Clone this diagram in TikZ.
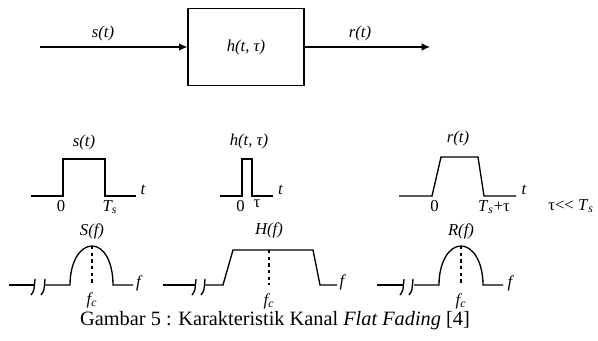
\documentclass[tikz,border=0pt]{standalone}
\usepackage{fontspec}
\setmainfont{Liberation Serif}
\usetikzlibrary{arrows.meta}

\begin{document}
\begin{tikzpicture}[x=0.6pt,y=-0.6pt,line width=0.7pt,
  box/.style={draw,inner sep=0pt,minimum width=69.6pt,minimum height=46.2pt},
  arr/.style={-{Latex[length=5pt,width=4.5pt]}},
  lbl/.style={inner sep=0pt,font=\fontsize{10}{12}\selectfont\itshape},
  num/.style={inner sep=0pt,font=\fontsize{10}{12}\selectfont},
  wave/.style={line width=0.8pt},
  dsh/.style={line width=0.8pt,dash pattern=on 2pt off 2pt}]
\useasboundingbox (0,0) rectangle (598,340);
% kanal
\coordinate (in) at (40,47);
\coordinate (out) at (430,47);
\node[box] (ch) at (246,47) {\fontsize{10}{12}\selectfont\itshape h(t, τ)};
\draw[arr] (in)--(ch); \draw[arr] (ch)--(out);
\node[lbl] (sin) at (103,33) {s(t)};
\node[lbl] (rout) at (360,33) {r(t)};
% domain waktu
\draw[wave] (31,196)--(63,196)--(63,159)--(105,159)--(105,196)--(136,196);
\draw[wave] (220,196)--(242,196)--(242,159)--(252,159)--(252,196)--(273,196);
\draw[wave] (399,196)--(432,196)--(441,157)--(478,157)--(484,196)--(516,196);
\node[lbl] (st) at (84,142) {s(t)};
\node[num] (s0) at (61,206) {0};
\node[lbl] (sTs) at (110,207) {T\textsubscript{s}};
\node[lbl] (st1) at (143,190) {t};
\node[lbl] (ht) at (249,141) {h(t, τ)};
\node[num] (h0) at (240.5,206) {0};
\node[num] (htau) at (257,204) {τ};
\node[lbl] (ht1) at (280.5,190) {t};
\node[lbl] (rt) at (458,138) {r(t)};
\node[num] (r0) at (434.5,206) {0};
\node[num] (rTs) at (494,207) {\textit{T}\textsubscript{\textit{s}}+τ};
\node[lbl] (rt1) at (524,190) {t};
\node[num] (cond) at (571,206) {τ{<}{<} \textit{T}\textsubscript{\textit{s}}};
% domain frekuensi
\draw[wave] (9,285)--(34,285);
\draw[wave] (45,285)--(70,285) .. controls (70,262) and (80,246) .. (92,246)
  .. controls (104,246) and (113,262) .. (113,285)--(133,285);
\draw[wave] (163,285)--(195,285);
\draw[wave] (205,285)--(223,285)--(233,250)--(313,250)--(320,285)--(337,285);
\draw[wave] (377,285)--(403,285);
\draw[wave] (414,285)--(439,285) .. controls (439,262) and (449,246) .. (461,246)
  .. controls (473,246) and (483,262) .. (483,285)--(503,285);
\foreach \x in {34,44,195,204,403,412}
  \draw[wave] (\x+1,279) .. controls (\x,291) .. (\x-3,295);
\draw[dsh] (92,246)--(92,285);
\draw[dsh] (269,250)--(269,285);
\draw[dsh] (461,246)--(461,285);
\node[lbl] (Sf) at (92,231) {S(f)};
\node[lbl] (Sfc) at (92,300) {f\textsubscript{c}};
\node[lbl] (Sf1) at (138.5,283) {f};
\node[lbl] (Hf) at (269,230) {H(f)};
\node[lbl] (Hfc) at (269,301) {f\textsubscript{c}};
\node[lbl] (Hf1) at (342,282) {f};
\node[lbl] (Rf) at (461,231) {R(f)};
\node[lbl] (Rfc) at (461,301) {f\textsubscript{c}};
\node[lbl] (Rf1) at (510,283) {f};
\node[inner sep=0pt,font=\fontsize{12.2}{14}\selectfont] (cap) at (275,321) {Gambar 5 : Karakteristik Kanal \textit{Flat Fading} [4]};
\end{tikzpicture}
\end{document}
